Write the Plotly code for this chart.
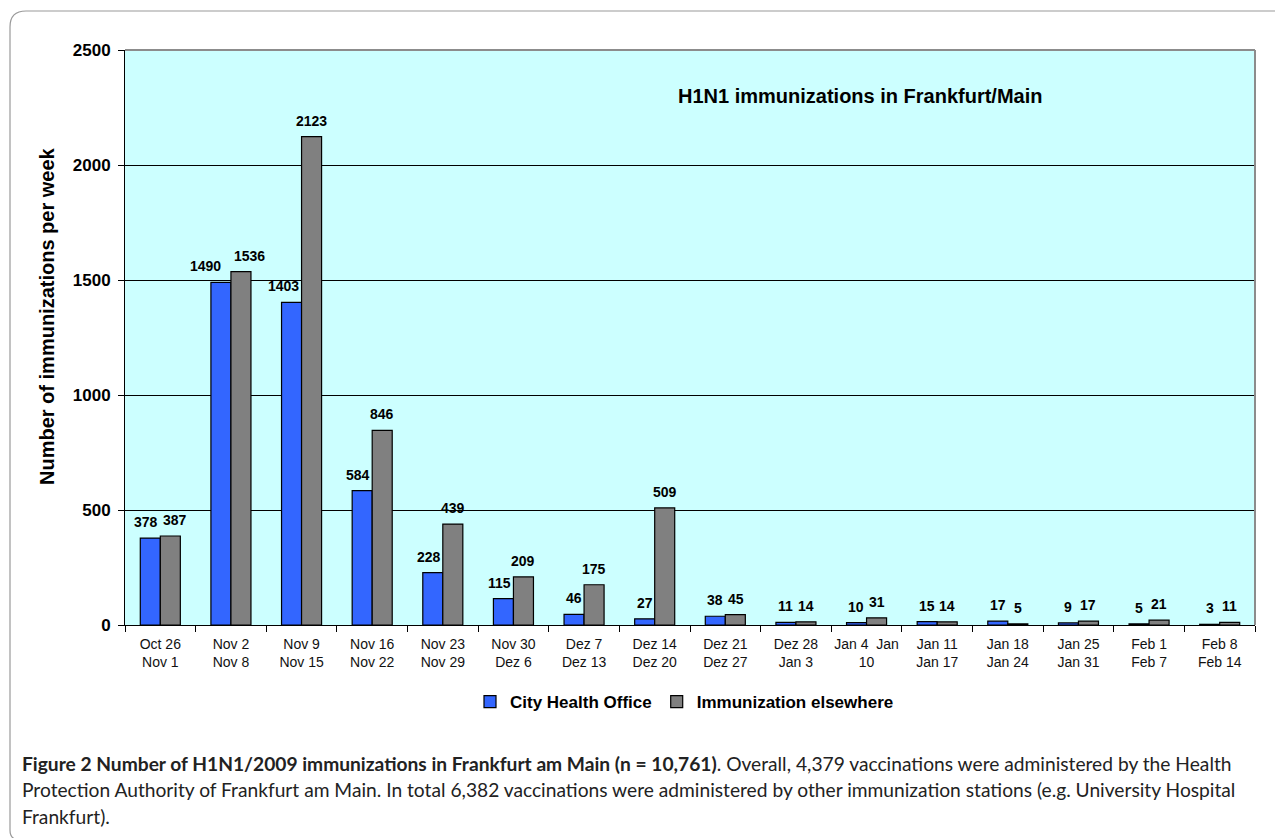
import plotly.graph_objects as go

weeks = ["Oct 26<br>Nov 1", "Nov 2<br>Nov 8", "Nov 9<br>Nov 15", "Nov 16<br>Nov 22",
         "Nov 23<br>Nov 29", "Nov 30<br>Dez 6", "Dez 7<br>Dez 13", "Dez 14<br>Dez 20",
         "Dez 21<br>Dez 27", "Dez 28<br>Jan 3", "Jan 4  Jan<br>10", "Jan 11<br>Jan 17",
         "Jan 18<br>Jan 24", "Jan 25<br>Jan 31", "Feb 1<br>Feb 7", "Feb 8<br>Feb 14"]
city_health_office = [378, 1490, 1403, 584, 228, 115, 46, 27, 38, 11, 10, 15, 17, 9, 5, 3]
elsewhere = [387, 1536, 2123, 846, 439, 209, 175, 509, 45, 14, 31, 14, 5, 17, 21, 11]
y_ticks = [0, 500, 1000, 1500, 2000, 2500]

# page layout (page pixel coords; the figure div sits 8px in from the page corner)
OFF = 8
W, H = 1283 - OFF, 838 - OFF
L, R, T, B = 125, 1255, 50, 625          # plot area in page pixels
YMAX = 2500


def px(x):
    return (x - L) / (R - L)


def py(y):
    return (B - y) / (B - T)


fig = go.Figure()
fig.add_trace(go.Bar(
    x=weeks, y=city_health_office, name="City Health Office",
    marker=dict(color="#3366FF", line=dict(color="black", width=1.2))))
fig.add_trace(go.Bar(
    x=weeks, y=elsewhere, name="Immunization elsewhere",
    marker=dict(color="#808080", line=dict(color="black", width=1.2))))

# value labels: placed at each bar's value, nudged sideways only to avoid collisions
ppu = (B - T) / YMAX
half_bar = 10
char_w = 7.8
label_font = dict(family="Liberation Sans, Arial", size=14, color="black")
for cat, b, g in zip(weeks, city_health_office, elsewhere):
    wb, wg = len(str(b)) * char_w, len(str(g)) * char_w
    sb = sg = 0.0
    if (g - b) * ppu > 8:
        sb -= max(0.0, wb / 2 - 8)
    if (b - g) * ppu > 8:
        sg += max(0.0, wg / 2 - 8)
    if abs(g - b) * ppu < 16:
        need = (wb + wg) / 2 + 5 - 2 * half_bar
        if need > 0:
            sb -= need / 2
            sg += need / 2
    fig.add_annotation(x=cat, y=b, xref="x", yref="y", text=f"<b>{b}</b>", showarrow=False,
                       xshift=-half_bar + sb, yshift=16, yanchor="middle", font=label_font)
    fig.add_annotation(x=cat, y=g, xref="x", yref="y", text=f"<b>{g}</b>", showarrow=False,
                       xshift=half_bar + sg, yshift=16, yanchor="middle", font=label_font)

fig.update_layout(
    width=W, height=H, autosize=False,
    margin=dict(l=L - OFF, r=W - (R - OFF), t=T - OFF, b=H - (B - OFF), pad=0),
    paper_bgcolor="white", plot_bgcolor="#CCFFFF",
    barmode="group", bargap=0.433, bargroupgap=0,
    font=dict(family="Liberation Sans, Arial", color="black"),
    showlegend=True,
    legend=dict(orientation="h", x=px(470), xanchor="left", y=py(702), yanchor="middle",
                font=dict(size=17, family="Liberation Sans, Arial", weight="bold"),
                itemwidth=30, traceorder="normal", bgcolor="rgba(0,0,0,0)"),
    xaxis=dict(type="category", tickson="boundaries", ticks="outside", ticklen=6,
               tickcolor="black", showline=True, linecolor="black", linewidth=1,
               tickfont=dict(size=14, color="#111"), ticklabelstandoff=6, tickangle=0,
               showgrid=False, fixedrange=True),
    yaxis=dict(range=[0, YMAX], tickvals=y_ticks, ticks="outside", ticklen=6,
               tickcolor="black", showline=True, linecolor="black", linewidth=1,
               showgrid=True, gridcolor="black", gridwidth=1, zeroline=False,
               tickfont=dict(size=17, weight="bold"), ticklabelstandoff=4),
)

# plot area top/right border (gray)
fig.add_shape(type="line", xref="paper", yref="paper", x0=0, x1=1, y0=1, y1=1,
              line=dict(color="#8c8c8c", width=2))
fig.add_shape(type="line", xref="paper", yref="paper", x0=1, x1=1, y0=0, y1=1,
              line=dict(color="#8c8c8c", width=2))

# outer rounded frame
r = 16
x0, y0, x1, y1 = 10, 11, 1300, 840
path = (f"M {px(x0)},{py(y0 + r)} Q {px(x0)},{py(y0)} {px(x0 + r)},{py(y0)} "
        f"L {px(x1)},{py(y0)} M {px(x0)},{py(y0 + r)} L {px(x0)},{py(y1 - 10)} "
        f"Q {px(x0)},{py(y1)} {px(x0 + 10)},{py(y1)}")
fig.add_shape(type="path", xref="paper", yref="paper", path=path,
              line=dict(color="#9a9a9a", width=1.2))

fig.add_annotation(text="<b>H1N1 immunizations in Frankfurt/Main</b>", xref="paper", yref="paper",
                   x=px(860), y=py(96), xanchor="center", yanchor="middle", showarrow=False,
                   font=dict(size=20, family="Liberation Sans, Arial", color="black"))
fig.add_annotation(text="<b>Number of immunizations per week</b>", xref="paper", yref="paper",
                   x=px(47), y=py(316), xanchor="center", yanchor="middle", showarrow=False,
                   textangle=-90, font=dict(size=20, family="Liberation Sans, Arial", color="black"))

cap_font = dict(size=19.2, family="Lato", color="#222")
cap_lines = [
    "<b>Figure 2 Number of H1N1/2009 immunizations in Frankfurt am Main (n = 10,761)</b>. Overall, 4,379 vaccinations were administered by the Health",
    "Protection Authority of Frankfurt am Main. In total 6,382 vaccinations were administered by other immunization stations (e.g. University Hospital",
    "Frankfurt).",
]
for i, line in enumerate(cap_lines):
    fig.add_annotation(text=line, xref="paper", yref="paper", x=px(20), y=py(763 + 26.8 * i),
                       xanchor="left", yanchor="middle", showarrow=False, font=cap_font)

fig.write_html("out.html")
